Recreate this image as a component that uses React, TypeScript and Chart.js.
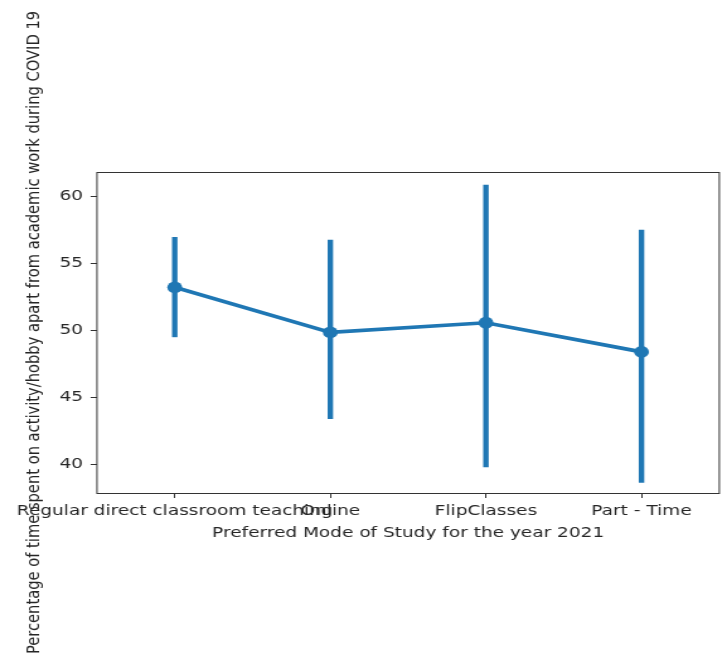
import React, { useEffect, useRef } from "react";
import { Chart, registerables } from "chart.js";

Chart.register(...registerables);

const categories = ["Regular direct classroom teaching", "Online", "FlipClasses", "Part - Time"];
const means = [53.19, 49.83, 50.55, 48.38];
const ciLow = [49.5, 43.41, 39.8, 38.64];
const ciHigh = [56.92, 56.72, 60.82, 57.46];
const yTicks = [40, 45, 50, 55, 60];
const yMin = 37.86;
const yMax = 61.79;
const xTitle = "Preferred Mode of Study for the year 2021";
const yTitle = "Percentage of time spent on activity/hobby apart from academic work during COVID 19";

const BLUE = "#1f77b4";
const TEXT = "#262626";
const SPINE = "#333333";
const FONT = "DejaVu Sans";
const STRETCH = 1.26;
const OUT_W = 727;
const OUT_H = 660;
const CANVAS_W = Math.round(OUT_W / STRETCH);

const framePlugin = {
  id: "frame",
  afterDraw(chart: any) {
    const { ctx, chartArea } = chart;
    const { left, right, top, bottom } = chartArea;
    ctx.save();
    ctx.strokeStyle = SPINE;
    ctx.lineWidth = 1;
    ctx.strokeRect(left, top + 0.5, right - left, bottom - top);
    // y title
    ctx.translate(31.0, (top + bottom) / 2);
    ctx.rotate(-Math.PI / 2);
    ctx.fillStyle = TEXT;
    ctx.font = `14.7px "${FONT}"`;
    ctx.textAlign = "center";
    ctx.textBaseline = "alphabetic";
    ctx.fillText(yTitle, 0, 0);
    ctx.restore();
  },
};

export default function App() {
  const ref = useRef<HTMLCanvasElement | null>(null);
  useEffect(() => {
    if (!ref.current) return;
    const chart = new Chart(ref.current, {
      type: "bar",
      data: {
        labels: categories,
        datasets: [
          {
            type: "line",
            data: means,
            borderColor: BLUE,
            backgroundColor: BLUE,
            borderWidth: 3.7,
            pointRadius: 5.9,
            pointBackgroundColor: BLUE,
            pointBorderWidth: 0,
            tension: 0,
            order: 0,
          } as any,
          {
            type: "bar",
            data: categories.map((_, i) => [ciLow[i], ciHigh[i]]),
            backgroundColor: BLUE,
            borderWidth: 0,
            barThickness: 3.7,
            order: 1,
          } as any,
        ],
      },
      options: {
        responsive: false,
        animation: false,
        devicePixelRatio: 1,
        layout: { padding: { left: 0, top: 172, right: CANVAS_W - 570.9, bottom: 110 } },
        plugins: { legend: { display: false }, tooltip: { enabled: false } },
        scales: {
          x: {
            type: "category",
            offset: true,
            grid: { display: true, drawOnChartArea: false, drawTicks: true, tickLength: 5, offset: false, color: SPINE },
            border: { display: false },
            ticks: {
              autoSkip: false,
              maxRotation: 0,
              minRotation: 0,
              padding: 4,
              color: TEXT,
              font: { family: FONT, size: 14.7 },
            },
            title: {
              display: true,
              text: xTitle,
              color: TEXT,
              font: { family: FONT, size: 14.7 },
              padding: { top: 0, bottom: 8.2 },
            },
            afterFit(scale: any) {
              scale.height = 57;
            },
          },
          y: {
            type: "linear",
            min: yMin,
            max: yMax,
            grid: { display: true, drawOnChartArea: false, drawTicks: true, tickLength: 5, color: SPINE },
            border: { display: false },
            ticks: {
              padding: 6,
              color: TEXT,
              font: { family: FONT, size: 14.7 },
            },
            afterBuildTicks(scale: any) {
              scale.ticks = yTicks.map((v) => ({ value: v }));
            },
            afterFit(scale: any) {
              scale.width = 74.8;
            },
          },
        },
      },
      plugins: [framePlugin],
    } as any);
    return () => chart.destroy();
  }, []);
  return (
    <div style={{ position: "absolute", left: 0, top: 0, width: OUT_W, height: OUT_H, background: "#fff" }}>
      <canvas
        ref={ref}
        width={CANVAS_W}
        height={OUT_H}
        style={{ width: `${OUT_W}px`, height: `${OUT_H}px`, display: "block" }}
      />
    </div>
  );
}
